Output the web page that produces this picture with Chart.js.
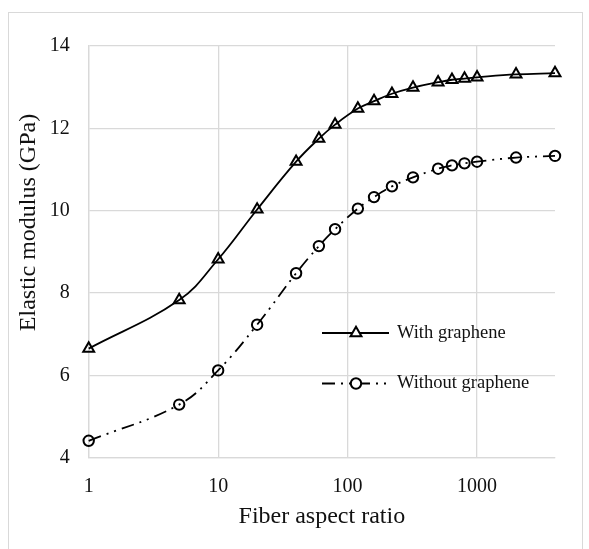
<!DOCTYPE html>
<html><head><meta charset="utf-8">
<script src="https://cdn.jsdelivr.net/npm/chart.js@4/dist/chart.umd.min.js"></script>
<style>html,body{margin:0;padding:0;background:#fff;}canvas{display:block}</style>
</head><body>
<canvas id="c" width="589" height="549"></canvas>
<script>
const aspectRatios = [1,5,10,20,40,60,80,120,160,220,320,500,640,800,1000,2000,4000];
const withGraphene = [6.65,7.83,8.82,10.03,11.19,11.75,12.09,12.48,12.66,12.84,12.99,13.12,13.18,13.21,13.24,13.31,13.34];
const withoutGraphene = [4.41,5.29,6.12,7.23,8.48,9.14,9.55,10.05,10.33,10.59,10.81,11.02,11.10,11.15,11.19,11.29,11.33];
const xTickValues = [1,10,100,1000];
const yTickValues = [4,6,8,10,12,14];
const seriesNames = ['With graphene','Without graphene'];
const xTitle = 'Fiber aspect ratio';
const yTitle = 'Elastic modulus (GPa)';

const FONT = '"Liberation Serif", "Times New Roman", serif';
const GRID = '#d9d9d9';
const DASH = [13,6,2,6,2,6];

function pts(vals){ return aspectRatios.map((x,i)=>({x:x, y:vals[i]})); }

const decor = {
  id:'decor',
  beforeDraw(chart){
    const ctx = chart.ctx;
    ctx.save();
    ctx.fillStyle = '#fff';
    ctx.fillRect(0,0,chart.width,chart.height);
    ctx.strokeStyle = '#d9d9d9';
    ctx.lineWidth = 1;
    ctx.strokeRect(8.5,12.5,574,560);
    ctx.restore();
  },
  afterDraw(chart){
    const ctx = chart.ctx;
    const a = chart.chartArea;
    ctx.save();
    ctx.fillStyle = '#111';
    ctx.font = '24px ' + FONT;
    ctx.textAlign = 'center';
    ctx.textBaseline = 'middle';
    ctx.fillText(xTitle, (a.left + a.right)/2, 516.5);
    ctx.translate(29, 222.5);
    ctx.rotate(-Math.PI/2);
    ctx.fillText(yTitle, 0, 0);
    ctx.restore();

    const items = [
      {y:333, style:'triangle', r:6.3, dash:[]},
      {y:383.5, style:'circle', r:5.2, dash:DASH}
    ];
    items.forEach((it, i) => {
      ctx.save();
      ctx.strokeStyle = '#000';
      ctx.lineWidth = 2;
      ctx.setLineDash(it.dash);
      ctx.beginPath();
      ctx.moveTo(322, it.y);
      ctx.lineTo(389, it.y);
      ctx.stroke();
      ctx.setLineDash([]);
      ctx.fillStyle = '#fff';
      ctx.strokeStyle = '#000';
      ctx.lineWidth = 2;
      Chart.helpers.drawPoint(ctx, {pointStyle: it.style, radius: it.r, rotation: 0, borderWidth: 2}, 356, it.y);
      ctx.fillStyle = '#111';
      ctx.font = '18.5px ' + FONT;
      ctx.textAlign = 'left';
      ctx.textBaseline = 'middle';
      ctx.fillText(seriesNames[i], 397, it.y);
      ctx.restore();
    });
  }
};

new Chart(document.getElementById('c'), {
  type: 'line',
  data: {
    datasets: [
      {
        label: seriesNames[0],
        data: pts(withGraphene),
        borderColor: '#000',
        borderWidth: 1.8,
        tension: 0.4,
        clip: false,
        pointStyle: 'triangle',
        pointRadius: 6.3,
        pointBorderWidth: 2,
        pointBorderColor: '#000',
        pointBackgroundColor: 'rgba(0,0,0,0)'
      },
      {
        label: seriesNames[1],
        data: pts(withoutGraphene),
        borderColor: '#000',
        borderWidth: 1.8,
        borderDash: DASH,
        tension: 0.4,
        clip: false,
        pointStyle: 'circle',
        pointRadius: 5.2,
        pointBorderWidth: 2,
        pointBorderColor: '#000',
        pointBackgroundColor: 'rgba(0,0,0,0)'
      }
    ]
  },
  options: {
    responsive: false,
    animation: false,
    layout: { padding: { top: 46, right: 34, left: 0, bottom: 0 } },
    plugins: { legend: { display: false }, tooltip: { enabled: false }, title: { display: false } },
    scales: {
      x: {
        type: 'logarithmic',
        min: 1, max: 4000,
        afterBuildTicks(scale){ scale.ticks = xTickValues.map(v => ({value: v})); },
        afterFit(scale){ scale.height = 91.3; },
        ticks: {
          padding: 17,
          color: '#111',
          font: { family: FONT, size: 20 },
          maxRotation: 0,
          autoSkip: false,
          callback: (v) => String(v)
        },
        grid: { color: GRID, lineWidth: 1.3, drawTicks: false },
        border: { color: GRID, width: 1.3 }
      },
      y: {
        type: 'linear',
        min: 4, max: 14,
        afterBuildTicks(scale){ scale.ticks = yTickValues.map(v => ({value: v})); },
        afterFit(scale){ scale.width = 88.7; },
        ticks: {
          padding: 19,
          color: '#111',
          font: { family: FONT, size: 20 },
          callback: (v) => String(v)
        },
        grid: { color: GRID, lineWidth: 1.3, drawTicks: false },
        border: { color: GRID, width: 1.3 }
      }
    }
  },
  plugins: [decor]
});
</script>
</body></html>
